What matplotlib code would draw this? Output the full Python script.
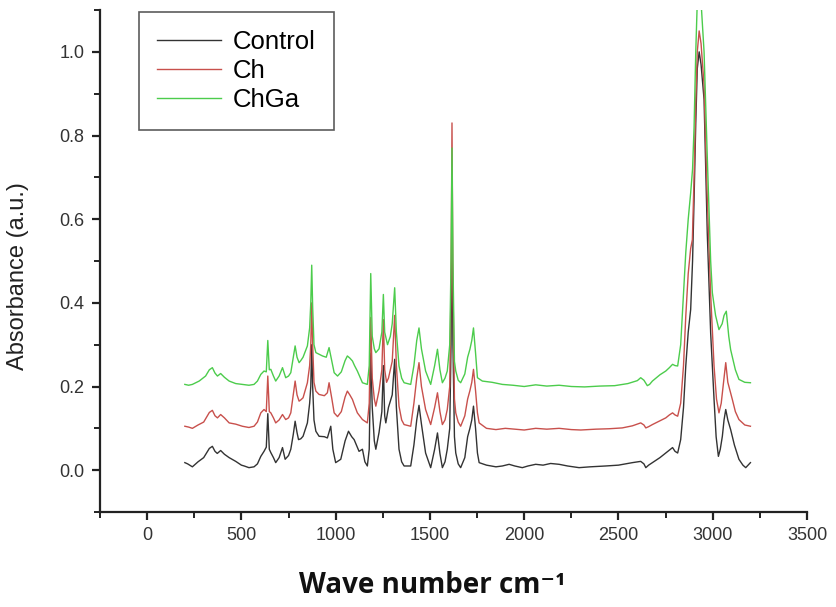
import numpy as np
import matplotlib
matplotlib.use("Agg")
import matplotlib.pyplot as plt
from matplotlib.ticker import MultipleLocator

plt.rcParams['font.family'] = ['Liberation Sans', 'DejaVu Sans']

# (wave number, absorbance)
control = [
    (200, 0.018), (215, 0.015), (240, 0.008), (270, 0.02), (300, 0.03), (330, 0.052),
    (346, 0.057), (360, 0.045), (372, 0.04), (390, 0.047), (410, 0.038), (435, 0.03),
    (470, 0.021), (500, 0.012), (515, 0.01), (540, 0.006), (567, 0.008), (585, 0.015),
    (603, 0.033), (620, 0.045), (632, 0.055), (640, 0.135), (648, 0.05), (656, 0.042),
    (670, 0.03), (682, 0.018), (700, 0.03), (718, 0.054), (732, 0.026), (750, 0.035),
    (762, 0.05), (775, 0.085), (785, 0.117), (795, 0.09), (803, 0.073), (815, 0.075),
    (827, 0.081), (850, 0.113), (862, 0.16), (868, 0.2), (873, 0.3), (878, 0.2),
    (885, 0.12), (895, 0.093), (912, 0.081), (940, 0.08), (956, 0.077), (974, 0.105),
    (985, 0.05), (1000, 0.018), (1027, 0.026), (1050, 0.07), (1068, 0.093), (1085, 0.08),
    (1098, 0.073), (1115, 0.055), (1124, 0.045), (1142, 0.05), (1155, 0.02), (1168, 0.01),
    (1178, 0.05), (1186, 0.28), (1194, 0.15), (1205, 0.07), (1213, 0.05), (1230, 0.09),
    (1245, 0.14), (1253, 0.25), (1260, 0.13), (1266, 0.113), (1280, 0.15), (1300, 0.18),
    (1313, 0.265), (1322, 0.15), (1336, 0.05), (1350, 0.02), (1363, 0.01), (1398, 0.01),
    (1415, 0.06), (1430, 0.12), (1442, 0.155), (1455, 0.11), (1477, 0.041), (1504, 0.006),
    (1525, 0.05), (1540, 0.089), (1553, 0.04), (1566, 0.006), (1580, 0.02), (1592, 0.05),
    (1605, 0.1), (1612, 0.3), (1617, 0.59), (1622, 0.3), (1630, 0.08), (1637, 0.041),
    (1650, 0.015), (1663, 0.006), (1685, 0.03), (1700, 0.08), (1712, 0.1), (1722, 0.12),
    (1731, 0.153), (1742, 0.1), (1752, 0.041), (1761, 0.018), (1800, 0.012), (1850, 0.008),
    (1884, 0.01), (1920, 0.014), (1950, 0.01), (1990, 0.006), (2020, 0.01), (2061, 0.014),
    (2100, 0.012), (2140, 0.016), (2185, 0.014), (2230, 0.01), (2291, 0.006), (2350, 0.008),
    (2432, 0.01), (2500, 0.012), (2574, 0.018), (2618, 0.021), (2635, 0.015), (2645, 0.006),
    (2660, 0.012), (2680, 0.018), (2720, 0.03), (2751, 0.041), (2770, 0.048), (2787, 0.054),
    (2800, 0.045), (2814, 0.041), (2830, 0.073), (2845, 0.15), (2857, 0.249), (2870, 0.33),
    (2883, 0.384), (2893, 0.5), (2901, 0.647), (2910, 0.83), (2918, 0.96), (2928, 1.0),
    (2938, 0.97), (2954, 0.886), (2971, 0.567), (2989, 0.328), (3007, 0.169), (3018, 0.08),
    (3030, 0.033), (3040, 0.05), (3051, 0.081), (3060, 0.12), (3069, 0.145), (3080, 0.12),
    (3095, 0.097), (3115, 0.06), (3139, 0.026), (3160, 0.012), (3175, 0.006), (3200, 0.018),
]

ch = [
    (200, 0.105), (220, 0.103), (240, 0.1), (270, 0.108), (300, 0.115), (330, 0.138),
    (346, 0.143), (360, 0.13), (373, 0.125), (390, 0.133), (410, 0.125), (435, 0.113),
    (470, 0.11), (505, 0.105), (540, 0.102), (567, 0.105), (585, 0.115), (603, 0.137),
    (620, 0.145), (632, 0.14), (640, 0.225), (648, 0.14), (656, 0.137), (670, 0.125),
    (682, 0.113), (700, 0.12), (718, 0.133), (735, 0.121), (750, 0.125), (762, 0.137),
    (775, 0.18), (785, 0.213), (795, 0.18), (806, 0.165), (815, 0.168), (827, 0.173),
    (850, 0.209), (862, 0.25), (868, 0.3), (873, 0.4), (878, 0.3), (885, 0.21),
    (895, 0.189), (912, 0.181), (940, 0.178), (956, 0.185), (965, 0.209), (980, 0.17),
    (992, 0.137), (1010, 0.128), (1030, 0.14), (1050, 0.175), (1062, 0.189), (1075, 0.18),
    (1089, 0.169), (1100, 0.155), (1115, 0.137), (1142, 0.121), (1168, 0.113), (1178, 0.16),
    (1186, 0.365), (1194, 0.22), (1205, 0.17), (1213, 0.153), (1230, 0.19), (1245, 0.24),
    (1253, 0.36), (1260, 0.24), (1270, 0.21), (1280, 0.22), (1300, 0.26), (1313, 0.37),
    (1322, 0.25), (1336, 0.153), (1350, 0.12), (1363, 0.109), (1398, 0.105), (1415, 0.16),
    (1430, 0.22), (1442, 0.257), (1455, 0.2), (1477, 0.145), (1504, 0.109), (1525, 0.15),
    (1540, 0.185), (1553, 0.14), (1566, 0.109), (1580, 0.12), (1592, 0.145), (1605, 0.2),
    (1612, 0.45), (1617, 0.83), (1622, 0.45), (1630, 0.17), (1637, 0.137), (1650, 0.115),
    (1663, 0.105), (1685, 0.13), (1700, 0.17), (1712, 0.19), (1722, 0.21), (1731, 0.241),
    (1742, 0.19), (1752, 0.137), (1761, 0.113), (1800, 0.1), (1850, 0.097), (1900, 0.1),
    (1950, 0.098), (2000, 0.096), (2061, 0.1), (2120, 0.098), (2185, 0.1), (2250, 0.097),
    (2300, 0.096), (2380, 0.098), (2450, 0.099), (2520, 0.101), (2574, 0.106), (2618, 0.113),
    (2635, 0.108), (2645, 0.101), (2660, 0.104), (2680, 0.109), (2720, 0.118), (2751, 0.125),
    (2770, 0.132), (2787, 0.137), (2800, 0.132), (2814, 0.129), (2830, 0.16), (2845, 0.25),
    (2857, 0.368), (2870, 0.47), (2883, 0.53), (2892, 0.551), (2901, 0.7), (2910, 0.88),
    (2918, 1.0), (2928, 1.05), (2938, 1.02), (2954, 0.92), (2971, 0.65), (2989, 0.42),
    (3007, 0.249), (3020, 0.17), (3033, 0.137), (3045, 0.16), (3055, 0.2), (3069, 0.257),
    (3080, 0.21), (3104, 0.169), (3120, 0.14), (3139, 0.121), (3170, 0.108), (3200, 0.105),
]

chga = [
    (200, 0.205), (220, 0.203), (240, 0.205), (276, 0.213), (310, 0.225), (330, 0.24),
    (346, 0.245), (360, 0.232), (373, 0.225), (390, 0.231), (410, 0.222), (435, 0.213),
    (470, 0.207), (505, 0.205), (540, 0.203), (567, 0.205), (585, 0.213), (603, 0.229),
    (620, 0.237), (632, 0.235), (640, 0.31), (648, 0.24), (656, 0.241), (670, 0.225),
    (682, 0.213), (700, 0.225), (718, 0.245), (735, 0.221), (750, 0.225), (762, 0.233),
    (775, 0.27), (785, 0.297), (795, 0.27), (806, 0.257), (815, 0.262), (827, 0.27),
    (850, 0.297), (862, 0.34), (868, 0.4), (873, 0.49), (878, 0.39), (885, 0.3),
    (895, 0.281), (912, 0.277), (930, 0.273), (950, 0.27), (965, 0.293), (980, 0.26),
    (992, 0.233), (1010, 0.225), (1030, 0.235), (1050, 0.262), (1062, 0.273), (1075, 0.268),
    (1089, 0.261), (1100, 0.25), (1115, 0.237), (1142, 0.209), (1168, 0.205), (1178, 0.25),
    (1186, 0.47), (1194, 0.32), (1205, 0.29), (1213, 0.281), (1230, 0.29), (1245, 0.33),
    (1253, 0.42), (1260, 0.33), (1275, 0.3), (1290, 0.32), (1300, 0.35), (1313, 0.436),
    (1322, 0.33), (1336, 0.249), (1350, 0.22), (1363, 0.209), (1398, 0.205), (1415, 0.25),
    (1430, 0.31), (1442, 0.34), (1455, 0.29), (1477, 0.237), (1504, 0.205), (1525, 0.25),
    (1540, 0.289), (1553, 0.24), (1566, 0.209), (1580, 0.22), (1592, 0.237), (1605, 0.3),
    (1612, 0.5), (1617, 0.77), (1622, 0.5), (1630, 0.26), (1637, 0.237), (1650, 0.215),
    (1663, 0.209), (1685, 0.23), (1700, 0.27), (1712, 0.289), (1722, 0.31), (1731, 0.34),
    (1742, 0.28), (1752, 0.221), (1778, 0.213), (1830, 0.21), (1884, 0.205), (1940, 0.203),
    (2000, 0.2), (2061, 0.204), (2120, 0.201), (2185, 0.203), (2250, 0.2), (2320, 0.199),
    (2400, 0.201), (2480, 0.202), (2550, 0.207), (2600, 0.214), (2618, 0.221), (2635, 0.215),
    (2653, 0.202), (2665, 0.205), (2680, 0.213), (2720, 0.228), (2751, 0.237), (2770, 0.245),
    (2787, 0.253), (2800, 0.25), (2814, 0.249), (2830, 0.3), (2845, 0.42), (2857, 0.52),
    (2870, 0.6), (2883, 0.663), (2893, 0.72), (2901, 0.82), (2910, 1.0), (2918, 1.12),
    (2928, 1.16), (2938, 1.12), (2954, 1.0), (2971, 0.75), (2989, 0.5), (2998, 0.424),
    (3015, 0.37), (3033, 0.336), (3050, 0.35), (3060, 0.37), (3072, 0.38), (3085, 0.32),
    (3095, 0.288), (3120, 0.24), (3139, 0.217), (3170, 0.21), (3200, 0.209),
]

series = [("Control", control, "#333333"),
          ("Ch", ch, "#c8504c"),
          ("ChGa", chga, "#4ccc4c")]

fig = plt.figure(figsize=(8.36, 6.07), dpi=100)
ax = fig.add_axes([100 / 836, 95 / 607, 707 / 836, 502 / 607])

for name, pts, color in series:
    arr = np.array(pts)
    ax.plot(arr[:, 0], arr[:, 1], color=color, linewidth=1.0, label=name)

ax.set_xlim(-250, 3500)
ax.set_ylim(-0.1, 1.1)
ax.xaxis.set_major_locator(MultipleLocator(500))
ax.xaxis.set_minor_locator(MultipleLocator(250))
ax.yaxis.set_major_locator(MultipleLocator(0.2))
ax.yaxis.set_minor_locator(MultipleLocator(0.1))
ax.yaxis.set_major_formatter(matplotlib.ticker.FormatStrFormatter('%.1f'))

for side in ['top', 'right']:
    ax.spines[side].set_visible(False)
for side in ['left', 'bottom']:
    ax.spines[side].set_linewidth(1.6)
    ax.spines[side].set_color('#222222')

ax.tick_params(which='major', direction='out', length=6, width=1.6,
               labelsize=13, colors='#222222', pad=5)
ax.tick_params(which='minor', direction='out', length=4, width=1.4, colors='#222222')
for lbl in ax.get_xticklabels() + ax.get_yticklabels():
    lbl.set_color('#333333')

ax.set_ylabel("Absorbance (a.u.)", fontsize=17, color='#222222')
ax.yaxis.set_label_coords(-0.1, 0.47)
ax.set_xlabel("Wave number cm\u207b\u00b9", fontsize=20, fontweight='bold',
              family=['Open Sans', 'DejaVu Sans'], color='#111111')
ax.xaxis.set_label_coords(0.47, -0.118)

leg = ax.legend(loc='upper left', bbox_to_anchor=(0.055, 0.996), borderaxespad=0,
                fontsize=18.5, frameon=True, fancybox=False, handlelength=2.5,
                handletextpad=0.45, labelspacing=0.2, borderpad=0.7)
leg.get_frame().set_edgecolor('#333333')
leg.get_frame().set_linewidth(1.2)

fig.savefig("out.png", dpi=100)
